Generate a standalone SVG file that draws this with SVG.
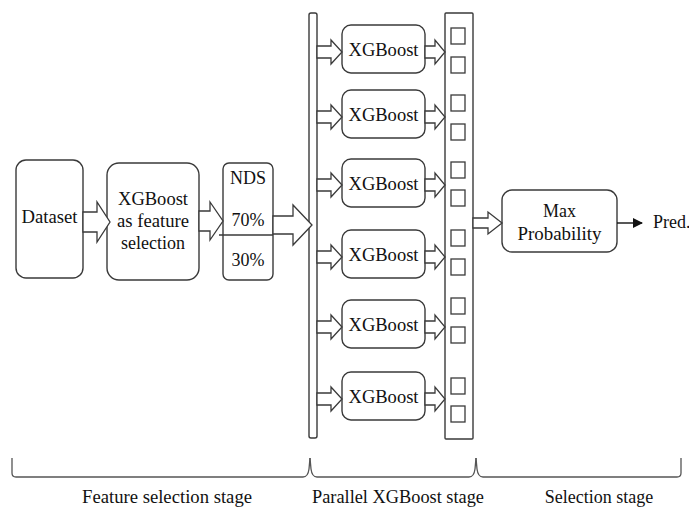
<svg xmlns="http://www.w3.org/2000/svg" width="689" height="510" viewBox="0 0 689 510">
<style>
.box{fill:#fff;stroke:#3a3a3a;stroke-width:1.4}
.arr{fill:#fff;stroke:#3a3a3a;stroke-width:1.3;stroke-linejoin:miter}
.sq{fill:#fff;stroke:#3a3a3a;stroke-width:1.3}
text{font-family:'Liberation Serif','Times New Roman',serif;font-size:18px;fill:#111;text-anchor:middle}
.br{fill:none;stroke:#555;stroke-width:1.3}
</style>
<defs>
<marker id="tri" markerWidth="10" markerHeight="10" refX="9" refY="5" orient="auto" markerUnits="userSpaceOnUse">
<path d="M0,0 L10,5 L0,10 Z" fill="#111"/>
</marker>
</defs>
<rect width="689" height="510" fill="#fff"/>

<g id="dataset"><rect class="box" x="16" y="160" width="67" height="118" rx="10"/><text x="49.5" y="223" textLength="56" lengthAdjust="spacingAndGlyphs">Dataset</text></g>
<g id="xgb-fs"><rect class="box" x="107" y="163" width="92" height="117" rx="12"/>
<text x="153" y="205" textLength="70" lengthAdjust="spacingAndGlyphs">XGBoost</text><text x="153" y="227" textLength="72" lengthAdjust="spacingAndGlyphs">as feature</text><text x="153" y="249" textLength="64" lengthAdjust="spacingAndGlyphs">selection</text></g>
<g id="nds"><rect class="box" x="223" y="163" width="50" height="117" rx="6"/>
<text x="248" y="184">NDS</text><text x="248" y="226">70%</text><text x="248" y="266">30%</text>
<line x1="219" y1="235" x2="273" y2="235" stroke="#3a3a3a" stroke-width="1.3"/></g>

<g id="bar-left"><rect class="box" x="309" y="13" width="8" height="425" rx="2"/></g>
<g id="bar-right"><rect class="box" x="445" y="13" width="28" height="426" rx="1"/>
<rect class="sq" x="451" y="28" width="14" height="16"/><rect class="sq" x="451" y="57" width="14" height="16"/>
<rect class="sq" x="451" y="95" width="14" height="16"/><rect class="sq" x="451" y="124" width="14" height="16"/>
<rect class="sq" x="451" y="162" width="14" height="16"/><rect class="sq" x="451" y="190" width="14" height="16"/>
<rect class="sq" x="451" y="230" width="14" height="16"/><rect class="sq" x="451" y="259" width="14" height="16"/>
<rect class="sq" x="451" y="298" width="14" height="16"/><rect class="sq" x="451" y="327" width="14" height="16"/>
<rect class="sq" x="451" y="378" width="14" height="16"/><rect class="sq" x="451" y="406" width="14" height="16"/>
</g>

<g id="xgb1"><rect class="box" x="342" y="25" width="83" height="48" rx="9"/><text x="383.5" y="56" textLength="70" lengthAdjust="spacingAndGlyphs">XGBoost</text></g>
<g id="xgb2"><rect class="box" x="342" y="90" width="83" height="48" rx="9"/><text x="383.5" y="121" textLength="70" lengthAdjust="spacingAndGlyphs">XGBoost</text></g>
<g id="xgb3"><rect class="box" x="342" y="159" width="83" height="48" rx="9"/><text x="383.5" y="190" textLength="70" lengthAdjust="spacingAndGlyphs">XGBoost</text></g>
<g id="xgb4"><rect class="box" x="342" y="230" width="83" height="48" rx="9"/><text x="383.5" y="261" textLength="70" lengthAdjust="spacingAndGlyphs">XGBoost</text></g>
<g id="xgb5"><rect class="box" x="342" y="300" width="83" height="48" rx="9"/><text x="383.5" y="331" textLength="70" lengthAdjust="spacingAndGlyphs">XGBoost</text></g>
<g id="xgb6"><rect class="box" x="342" y="372" width="83" height="48" rx="9"/><text x="383.5" y="403" textLength="70" lengthAdjust="spacingAndGlyphs">XGBoost</text></g>

<g id="maxprob"><rect class="box" x="502" y="190" width="115" height="62" rx="10"/>
<text x="559.5" y="217">Max</text><text x="559.5" y="240" textLength="84" lengthAdjust="spacingAndGlyphs">Probability</text></g>
<g id="pred"><text x="653" y="228" style="text-anchor:start">Pred.</text></g>

<g id="connectors">
<polygon class="arr" points="83,212 97,212 97,202 110,222 97,242 97,232 83,232"/>
<polygon class="arr" points="199,211 210,211 210,202 223,221 210,240 210,231 199,231"/>
<polygon class="arr" points="273,216 293,216 293,205 312,225 293,245 293,234 273,234"/>

<polygon class="arr" points="317,46 331,46 331,40 342,52 331,64 331,58 317,58"/>
<polygon class="arr" points="317,111 331,111 331,105 342,117 331,129 331,123 317,123"/>
<polygon class="arr" points="317,179 331,179 331,173 342,185 331,197 331,191 317,191"/>
<polygon class="arr" points="317,251 331,251 331,245 342,257 331,269 331,263 317,263"/>
<polygon class="arr" points="317,321 331,321 331,315 342,327 331,339 331,333 317,333"/>
<polygon class="arr" points="317,393 331,393 331,387 342,399 331,411 331,405 317,405"/>

<polygon class="arr" points="425,46 435,46 435,40 445,52 435,64 435,58 425,58"/>
<polygon class="arr" points="425,111 435,111 435,105 445,117 435,129 435,123 425,123"/>
<polygon class="arr" points="425,179 435,179 435,173 445,185 435,197 435,191 425,191"/>
<polygon class="arr" points="425,251 435,251 435,245 445,257 435,269 435,263 425,263"/>
<polygon class="arr" points="425,321 435,321 435,315 445,327 435,339 435,333 425,333"/>
<polygon class="arr" points="425,393 435,393 435,387 445,399 435,411 435,405 425,405"/>

<polygon class="arr" points="473,218 488,218 488,212 502,223 488,234 488,228 473,228"/>
<line x1="617" y1="223" x2="642" y2="223" stroke="#111" stroke-width="1.4" marker-end="url(#tri)"/>
</g>

<g id="brackets">
<path class="br" d="M12,458 V473 Q12,477 16,477 H303 Q308,477 309,469 L310,458"/>
<path class="br" d="M310,458 L311,469 Q312,477 317,477 H469 Q474,477 475,469 L476,458"/>
<path class="br" d="M476,458 L477,469 Q478,477 483,477 H677 Q681,477 681,473 V458"/>
<text x="167" y="503" textLength="170" lengthAdjust="spacingAndGlyphs">Feature selection stage</text>
<text x="398" y="503" textLength="172" lengthAdjust="spacingAndGlyphs">Parallel XGBoost stage</text>
<text x="599" y="503">Selection stage</text>
</g>
</svg>
